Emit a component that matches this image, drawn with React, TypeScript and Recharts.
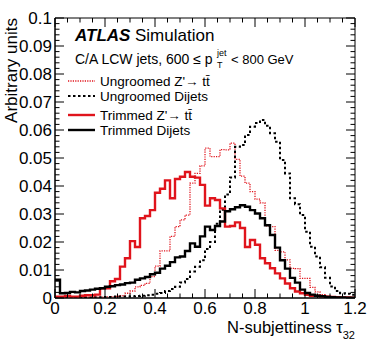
import React from 'react';
import { LineChart, Line, XAxis, YAxis, ReferenceArea, Legend } from 'recharts';

// ---------- data ----------
const binEdges = [
  0, 0.02, 0.04, 0.06, 0.08, 0.1, 0.12, 0.14, 0.16, 0.18,
  0.2, 0.22, 0.24, 0.26, 0.28, 0.3, 0.32, 0.34, 0.36, 0.38,
  0.4, 0.42, 0.44, 0.46, 0.48, 0.5, 0.52, 0.54, 0.56, 0.58,
  0.6, 0.62, 0.64, 0.66, 0.68, 0.7, 0.72, 0.74, 0.76, 0.78,
  0.8, 0.82, 0.84, 0.86, 0.88, 0.9, 0.92, 0.94, 0.96, 0.98,
  1.0, 1.02, 1.04, 1.06, 1.08, 1.1, 1.12, 1.14, 1.16, 1.18, 1.2,
];

const ungroomedZprime = [
  0, 0, 0, 0, 0.0001, 0.0001, 0.0002, 0.0002, 0.0003, 0.0003,
  0.0004, 0.0005, 0.0006, 0.0008, 0.0017, 0.0025, 0.004, 0.0045, 0.0052, 0.0076,
  0.0114, 0.0168, 0.0168, 0.022, 0.0255, 0.0279, 0.0296, 0.041, 0.0445, 0.0472,
  0.0535, 0.0505, 0.0505, 0.053, 0.0529, 0.0553, 0.0495, 0.0435, 0.041, 0.038,
  0.0353, 0.034, 0.0258, 0.0255, 0.017, 0.0165, 0.0136, 0.0106, 0.0105, 0.007,
  0.007, 0.0038, 0.0022, 0.0012, 0.0006, 0.0004, 0.0003, 0.0002, 0.0001, 0.0001,
];

const ungroomedDijets = [
  0, 0, 0, 0, 0.0001, 0.0001, 0.0002, 0.0002, 0.0003, 0.0003,
  0.0004, 0.0004, 0.0005, 0.0005, 0.0005, 0.0006, 0.0007, 0.0008, 0.001, 0.0012,
  0.0015, 0.0018, 0.0025, 0.0032, 0.004, 0.0055, 0.0068, 0.0095, 0.0112, 0.0135,
  0.0175, 0.02, 0.0265, 0.0315, 0.037, 0.043, 0.054, 0.0546, 0.0582, 0.0612,
  0.0625, 0.0636, 0.0615, 0.0588, 0.0558, 0.0493, 0.0445, 0.0356, 0.0335, 0.0296,
  0.0237, 0.0183, 0.0148, 0.011, 0.0072, 0.0041, 0.0025, 0.0017, 0.0015, 0.0012,
];

const trimmedZprime = [
  0.0005, 0.0005, 0.0007, 0.0005, 0.0005, 0.0008, 0.001, 0.001, 0.0012, 0.0035,
  0.0035, 0.006, 0.0068, 0.0112, 0.0142, 0.0203, 0.0182, 0.0285, 0.0293, 0.0314,
  0.0376, 0.039, 0.042, 0.0356, 0.0425, 0.0433, 0.045, 0.0433, 0.043, 0.0404,
  0.033, 0.0356, 0.035, 0.032, 0.0255, 0.0257, 0.027, 0.025, 0.0182, 0.0207,
  0.019, 0.0142, 0.0124, 0.0106, 0.0088, 0.007, 0.0052, 0.0035, 0.0023, 0.0017,
  0.0011, 0.0008, 0.0008, 0.0006, 0.0005, 0.0004, 0.0003, 0.0002, 0.0002, 0.0001,
];

const trimmedDijets = [
  0.0065, 0.0017, 0.0018, 0.0022, 0.002, 0.0025, 0.0027, 0.003, 0.0033, 0.0035,
  0.004, 0.0042, 0.0046, 0.0048, 0.0053, 0.0055, 0.0065, 0.007, 0.0075, 0.0085,
  0.009, 0.0105, 0.0115, 0.0128, 0.0145, 0.0148, 0.0168, 0.0195, 0.0183, 0.022,
  0.0255, 0.0243, 0.0257, 0.0273, 0.031, 0.0317, 0.0324, 0.0331, 0.0326, 0.0314,
  0.0302, 0.0285, 0.026, 0.0225, 0.018, 0.0135, 0.0105, 0.0072, 0.0055, 0.003,
  0.0018, 0.0012, 0.0008, 0.0006, 0.0004, 0.0003, 0.0002, 0.0002, 0.0001, 0.0001,
];

const seriesNames = [
  "Ungroomed Z'\u2192 tt\u0304",
  'Ungroomed Dijets',
  "Trimmed Z'\u2192 tt\u0304",
  'Trimmed Dijets',
];

const xMajorTicks = [0, 0.2, 0.4, 0.6, 0.8, 1, 1.2];
const xTickLabels = ['0', '0.2', '0.4', '0.6', '0.8', '1', '1.2'];
const yMajorTicks = [0, 0.01, 0.02, 0.03, 0.04, 0.05, 0.06, 0.07, 0.08, 0.09, 0.1];
const yTickLabels = ['0', '0.01', '0.02', '0.03', '0.04', '0.05', '0.06', '0.07', '0.08', '0.09', '0.1'];

// ---------- derived table ----------
const nBins = ungroomedZprime.length;
const data = binEdges.map((x, i) => {
  const j = Math.min(i, nBins - 1);
  return {
    x,
    ugZ: ungroomedZprime[j],
    ugQCD: ungroomedDijets[j],
    trZ: trimmedZprime[j],
    trQCD: trimmedDijets[j],
  };
});

// axis tick positions (majors + minor subdivisions)
const xAllTicks: number[] = [];
for (let k = 0; k <= 24; k++) xAllTicks.push(Math.round(k * 5) / 100);
const yAllTicks: number[] = [];
for (let k = 0; k <= 50; k++) yAllTicks.push(Math.round(k * 2) / 1000);

// ---------- styles ----------
const FONT = '"Liberation Sans", Arial, Helvetica, sans-serif';
const RED = '#e0141c';
const W = 374;
const H = 355;
const M = { top: 18, right: 19, left: 0, bottom: 0 };
const Y_AXIS_W = 55;
const X_AXIS_H = 57;
const PLOT_W = W - Y_AXIS_W - M.right;
const PLOT_H = H - M.top - X_AXIS_H;

const seriesStyles = [
  { key: 'ugZ', name: seriesNames[0], color: RED, width: 1.3, dash: '1.2 1.2' },
  { key: 'ugQCD', name: seriesNames[1], color: '#000', width: 2, dash: '2.5 2.5' },
  { key: 'trZ', name: seriesNames[2], color: RED, width: 2.4, dash: undefined as string | undefined },
  { key: 'trQCD', name: seriesNames[3], color: '#000', width: 2.4, dash: undefined as string | undefined },
];

const findMajor = (arr: number[], v: number) => arr.findIndex((m) => Math.abs(m - v) < 1e-7);

const XTick = (props: any) => {
  const { x, y, payload } = props;
  const idx = findMajor(xMajorTicks, payload.value);
  const len = idx >= 0 ? 9 : 4.5;
  return (
    <g>
      <line x1={x} x2={x} y1={y} y2={y - len} stroke="#000" strokeWidth={1} />
      <line x1={x} x2={x} y1={y - PLOT_H} y2={y - PLOT_H + len} stroke="#000" strokeWidth={1} />
      {idx >= 0 && (
        <text x={x} y={y + 16} textAnchor="middle" fontSize={17} fontFamily={FONT} fill="#000">
          {xTickLabels[idx]}
        </text>
      )}
    </g>
  );
};

const YTick = (props: any) => {
  const { x, y, payload } = props;
  const idx = findMajor(yMajorTicks, payload.value);
  const len = idx >= 0 ? 9 : 4.5;
  return (
    <g>
      <line x1={x} x2={x + len} y1={y} y2={y} stroke="#000" strokeWidth={1} />
      <line x1={x + PLOT_W} x2={x + PLOT_W - len} y1={y} y2={y} stroke="#000" strokeWidth={1} />
      {idx >= 0 && (
        <text x={x - 3} y={y} dy="0.36em" textAnchor="end" fontSize={17} fontFamily={FONT} fill="#000">
          {yTickLabels[idx]}
        </text>
      )}
    </g>
  );
};

const rowBaselines = [16, 31, 50, 65];

const LegendContent = (props: any) => {
  const payload: any[] = props.payload || [];
  return (
    <svg width={175} height={72} style={{ display: 'block', overflow: 'visible' }}>
      {seriesStyles.map((s, i) => {
        const entry = payload.find((p) => p.value === s.name);
        const label = entry ? entry.value : s.name;
        const yb = rowBaselines[i];
        return (
          <g key={s.key}>
            <line
              x1={8}
              x2={35}
              y1={yb - 5}
              y2={yb - 5}
              stroke={s.color}
              strokeWidth={s.width}
              strokeDasharray={s.dash}
            />
            <text x={40} y={yb} fontSize={13.5} fontFamily={FONT} fill="#000">
              {label}
            </text>
          </g>
        );
      })}
    </svg>
  );
};

export default function App() {
  return (
    <div style={{ position: 'absolute', left: 0, top: 0, width: W, height: H, background: '#fff' }}>
      <LineChart width={W} height={H} data={data} margin={M}>
        <XAxis
          type="number"
          dataKey="x"
          domain={[0, 1.2]}
          ticks={xAllTicks}
          interval={0}
          tick={<XTick />}
          tickLine={false}
          tickSize={0}
          tickMargin={0}
          axisLine={{ stroke: '#000', strokeWidth: 1 }}
          height={X_AXIS_H}
          allowDataOverflow
        />
        <YAxis
          type="number"
          domain={[0, 0.1]}
          ticks={yAllTicks}
          interval={0}
          tick={<YTick />}
          tickLine={false}
          tickSize={0}
          tickMargin={0}
          axisLine={{ stroke: '#000', strokeWidth: 1 }}
          width={Y_AXIS_W}
          allowDataOverflow
        />
        {seriesStyles.map((s) => (
          <Line
            key={s.key}
            dataKey={s.key}
            name={s.name}
            type="stepAfter"
            stroke={s.color}
            strokeWidth={s.width}
            strokeDasharray={s.dash}
            strokeLinecap="butt"
            dot={false}
            activeDot={false}
            isAnimationActive={false}
          />
        ))}
        <ReferenceArea x1={0} x2={1.2} y1={0} y2={0.1} fill="none" stroke="#000" strokeWidth={1} ifOverflow="visible" />
        <Legend
          layout="vertical"
          align="center"
          verticalAlign="middle"
          content={<LegendContent />}
          wrapperStyle={{ left: 60, top: 70, width: 175, height: 72 }}
        />
      </LineChart>
      <svg
        width={W}
        height={H}
        style={{ position: 'absolute', left: 0, top: 0, pointerEvents: 'none' }}
      >
        <text x={75} y={41} fontSize={17} fontFamily={FONT} fontWeight="bold" fontStyle="italic" fill="#000">
          ATLAS
        </text>
        <text x={135} y={41} fontSize={17} fontFamily={FONT} fill="#000">
          Simulation
        </text>
        <text x={75} y={64} fontSize={14} fontFamily={FONT} fill="#000">
          C/A LCW jets, 600 ≤ p
        </text>
        <text x={217} y={56} fontSize={9} fontFamily={FONT} fill="#000">
          jet
        </text>
        <text x={217} y={68} fontSize={9} fontFamily={FONT} fill="#000">
          T
        </text>
        <text x={231} y={64} fontSize={13} fontFamily={FONT} fill="#000">
          {'< 800 GeV'}
        </text>
        <text x={-18} y={17} transform="rotate(-90)" textAnchor="end" fontSize={17} fontFamily={FONT} fill="#000">
          Arbitrary units
        </text>
        <text x={355} y={333} textAnchor="end" fontSize={16.5} fontFamily={FONT} fill="#000">
          <tspan>N-subjettiness τ</tspan>
          <tspan fontSize={11} dy={6}>32</tspan>
        </text>
      </svg>
    </div>
  );
}
